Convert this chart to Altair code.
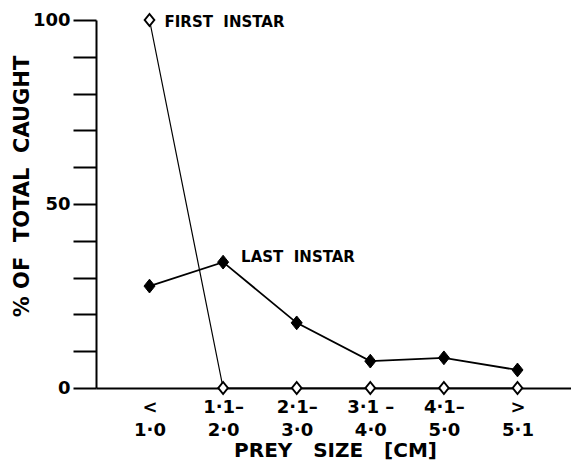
import altair as alt
import pandas as pd

# ---- data ----
size_top = ["<", "1·1–", "2·1–", "3·1 –", "4·1–", ">"]
size_bottom = ["1·0", "2·0", "3·0", "4·0", "5·0", "5·1"]
first_instar = [100, 0, 0, 0, 0, 0]
last_instar = [27.7, 34.2, 17.7, 7.3, 8.2, 4.9]
y_ticks = [0, 10, 20, 30, 40, 50, 60, 70, 80, 90, 100]

NB = "\u00a0"
ann_first = [f"FIRST{NB} INSTAR"]
ann_last = [f"LAST{NB} INSTAR"]
x_title = f"PREY{NB}{NB} SIZE{NB}{NB} [CM]"
y_title = f"%{NB}OF{NB} TOTAL{NB} CAUGHT"

cats = [f"{t}|{b}" for t, b in zip(size_top, size_bottom)]

rows = []
for c, v in zip(cats, first_instar):
    rows.append({"size": c, "series": "first", "pct": v})
for c, v in zip(cats, last_instar):
    rows.append({"size": c, "series": "last", "pct": v})
df = pd.DataFrame(rows)
df_first = df[df.series == "first"]
df_last = df[df.series == "last"]

ann_df_first = pd.DataFrame({"size": [cats[0]], "pct": [first_instar[0]], "label": ann_first})
ann_df_last = pd.DataFrame({"size": [cats[1]], "pct": [last_instar[1]], "label": ann_last})

FONT = "DejaVu Sans"
DIAMOND = "M0,-1L0.8,0L0,1L-0.8,0Z"

x_enc = alt.X(
    "size:N",
    sort=cats,
    scale=alt.Scale(type="point", padding=0.727),
    axis=alt.Axis(
        title=x_title,
        titleFont=FONT, titleFontSize=20, titleFontWeight="bold", titleColor="black",
        titleX=239, titleY=68, titleBaseline="alphabetic", titleAnchor="middle",
        labelExpr="split(datum.label, '|')",
        labelAngle=0, labelFont=FONT, labelFontSize=18, labelFontWeight="bold",
        labelColor="black", labelPadding=10, labelLineHeight=23, labelBaseline="top",
        ticks=False, domainColor="black", domainWidth=2,
    ),
)
y_enc = alt.Y(
    "pct:Q",
    scale=alt.Scale(domain=[0, 100], nice=False),
    axis=alt.Axis(
        title=y_title,
        titleFont=FONT, titleFontSize=21, titleFontWeight="bold", titleColor="black",
        titleX=-74, titleY=166, titleAngle=270, titleAlign="center", titleBaseline="middle",
        values=y_ticks,
        labelExpr="datum.value % 50 == 0 ? datum.label : ''",
        labelFont=FONT, labelFontSize=18, labelFontWeight="bold", labelColor="black",
        labelPadding=3, tickSize=23, tickWidth=2, tickColor="black",
        domainColor="black", domainWidth=2, grid=False,
    ),
)

line_first = alt.Chart(df_first).mark_line(color="black", strokeWidth=1.2).encode(x=x_enc, y=y_enc)
line_last = alt.Chart(df_last).mark_line(color="black", strokeWidth=1.8).encode(x=x_enc, y=y_enc)

pts_first = alt.Chart(df_first).mark_point(
    shape=DIAMOND, size=144, filled=True, fill="white", stroke="black", strokeWidth=2, opacity=1
).encode(x=x_enc, y=y_enc)
pts_last = alt.Chart(df_last).mark_point(
    shape=DIAMOND, size=190, filled=True, fill="black", stroke="black", strokeWidth=1, opacity=1
).encode(x=x_enc, y=y_enc)

txt_first = alt.Chart(ann_df_first).mark_text(
    align="left", baseline="middle", dx=15, dy=2, font=FONT, fontSize=15, fontWeight="bold", color="black"
).encode(x=x_enc, y=y_enc, text="label:N")
txt_last = alt.Chart(ann_df_last).mark_text(
    align="left", baseline="middle", dx=18, dy=-5, font=FONT, fontSize=15, fontWeight="bold", color="black"
).encode(x=x_enc, y=y_enc, text="label:N")

chart = alt.layer(line_first, line_last, pts_first, pts_last, txt_first, txt_last).properties(
    width=475, height=368,
    autosize=alt.AutoSizeParams(type="none"),
    padding={"left": 96, "top": 20, "right": 0, "bottom": 75},
    background="white",
).configure_view(stroke=None)

chart.save("out.html", embed_options={"renderer": "svg", "actions": False})
